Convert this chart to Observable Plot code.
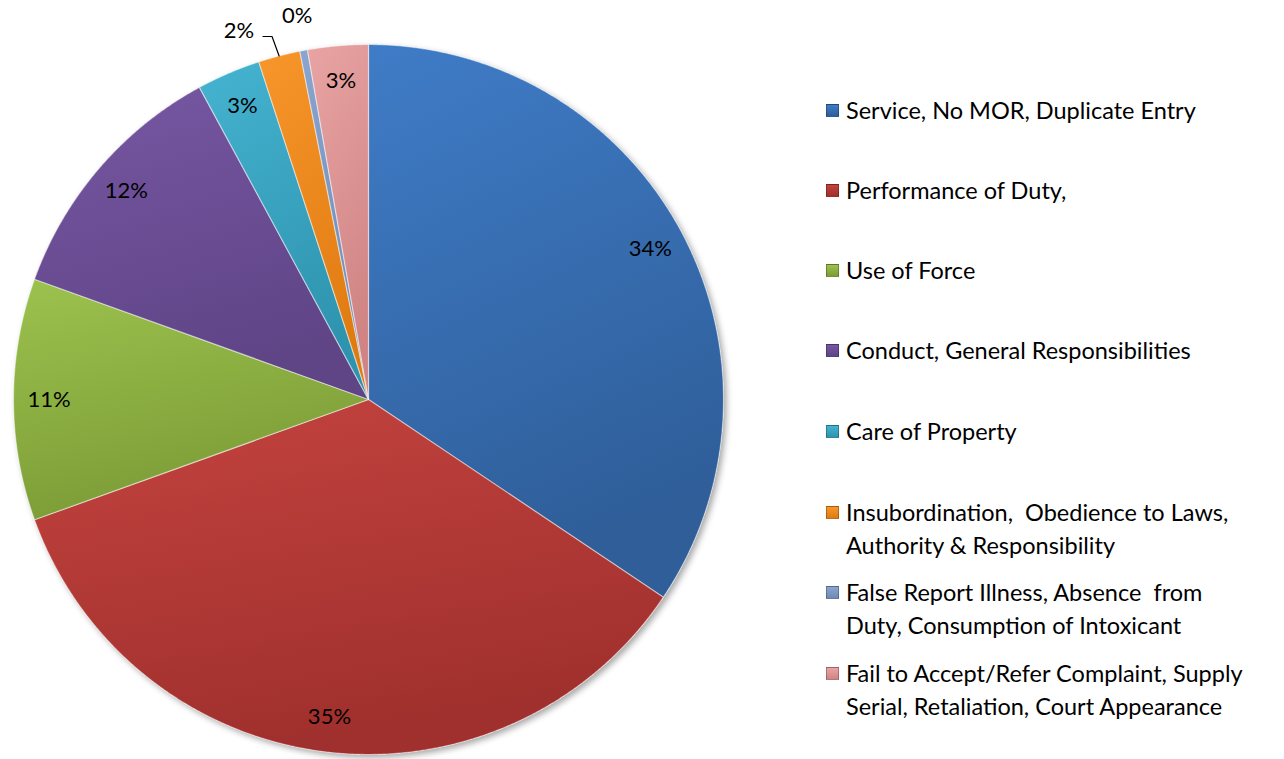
<!DOCTYPE html>
<html><head><meta charset="utf-8">
<script src="https://cdn.jsdelivr.net/npm/d3@7"></script>
<script src="https://cdn.jsdelivr.net/npm/@observablehq/plot@0.6"></script>
<style>
body{margin:0;background:#fff;font-family:Lato,"Open Sans",sans-serif;}
#wrap{position:relative;width:1284px;height:759px;overflow:hidden;background:#fff}
#chart{position:absolute;left:0;top:0}
#legend{position:absolute;left:826px;top:0;width:458px;height:759px}
.item{position:absolute;left:0;padding-left:20px;font-size:23.5px;line-height:33px;color:#000;white-space:pre}
.sw{position:absolute;left:0;top:10px;width:13px;height:13px;border:1px solid rgba(0,0,0,0.25);box-sizing:border-box}
</style>
</head><body>
<div id="wrap"><div id="chart"></div><div id="legend"></div></div>
<script>
const categories = [
  "Service, No MOR, Duplicate Entry",
  "Performance of Duty,",
  "Use of Force",
  "Conduct, General Responsibilities",
  "Care of Property",
  "Insubordination,  Obedience to Laws,\nAuthority & Responsibility",
  "False Report Illness, Absence  from\nDuty, Consumption of Intoxicant",
  "Fail to Accept/Refer Complaint, Supply\nSerial, Retaliation, Court Appearance"
];
const values = [34.4, 35.1, 11.0, 11.6, 2.9, 1.9, 0.35, 2.75];
const topColors    = ["#3f7cc7","#c4433f","#9cc24e","#7757a3","#45b3d0","#f7962a","#8aa6d0","#e8a4a3"];
const bottomColors = ["#2f5e99","#a0302d","#7c9c36","#5f4486","#2e93ae","#e07b12","#6f8bb5","#d08484"];

const rows = categories.map((c, i) => ({cat: c, value: values[i], i}));
const total = d3.sum(values);
const arcs = d3.pie().sort(null).value(d => d.value)(rows);

// slice polygons in unit coordinates (y up)
const slices = arcs.map(a => {
  const pts = [{x: 0, y: 0}];
  const n = Math.max(2, Math.ceil((a.endAngle - a.startAngle) / 0.004));
  for (let k = 0; k <= n; k++) {
    const t = a.startAngle + (a.endAngle - a.startAngle) * k / n;
    pts.push({x: Math.sin(t), y: Math.cos(t)});
  }
  pts.push({x: 0, y: 0});
  return pts;
});
const outline = d3.range(0, 2 * Math.PI + 0.004, 0.004).map(t => ({x: Math.sin(t), y: Math.cos(t)}));

// labels
const labels = arcs.map(a => {
  const pct = a.data.value / total * 100;
  const mid = (a.startAngle + a.endAngle) / 2;
  const outside = pct < 2.5;
  const shift = (outside && a.index === 5) ? -0.084 : 0;
  const r = outside ? 1.10 : 0.90;
  const ang = mid + shift;
  return {x: r * Math.sin(ang), y: r * Math.cos(ang), text: Math.round(pct) + "%", outside, shift, mid, index: a.index};
});
const leaders = labels.filter(l => l.shift !== 0).map(l => {
  const end = {x: Math.sin(l.mid), y: Math.cos(l.mid)};
  const ly = l.y - 0.015;
  return [{x: l.x + 0.068, y: ly}, {x: end.x - 0.02, y: ly}, end].map(p => ({...p, k: l.index}));
}).flat();

const W = 736, H = 759;
const chart = Plot.plot({
  width: W, height: H,
  marginTop: 44, marginBottom: 5, marginLeft: 13, marginRight: 13,
  x: {domain: [-1, 1], axis: null},
  y: {domain: [-1, 1], axis: null},
  style: {fontFamily: "Lato, 'Open Sans', sans-serif", background: "transparent", overflow: "visible"},
  marks: [
    Plot.line(outline, {x: "x", y: "y", fill: "white", stroke: "none"}),
    ...slices.map((pts, i) => Plot.line(pts, {
      x: "x", y: "y", fill: `url(#slice${i})`,
      stroke: "white", strokeOpacity: 0.45, strokeWidth: 1.2, strokeLinejoin: "round"
    })),
    Plot.line(leaders, {x: "x", y: "y", z: "k", stroke: "black", strokeWidth: 1.2}),
    Plot.text(labels, {x: "x", y: "y", text: "text", fontSize: 22, fill: "black"})
  ]
});

// gradient + shadow defs
const svg = d3.select(chart);
const defs = svg.insert("defs", ":first-child");
topColors.forEach((c, i) => {
  const g = defs.append("linearGradient").attr("id", `slice${i}`)
    .attr("x1", 0).attr("y1", 0).attr("x2", 0.3).attr("y2", 1);
  g.append("stop").attr("offset", "0%").attr("stop-color", c);
  g.append("stop").attr("offset", "100%").attr("stop-color", bottomColors[i]);
});
const f = defs.append("filter").attr("id", "pieShadow").attr("x", "-10%").attr("y", "-10%").attr("width", "120%").attr("height", "120%");
f.append("feDropShadow").attr("dx", 3).attr("dy", 3).attr("stdDeviation", 3).attr("flood-color", "#000").attr("flood-opacity", 0.35);
svg.select("g[aria-label=line]").attr("filter", "url(#pieShadow)");

document.getElementById("chart").appendChild(chart);

// legend
const legendCenters = [110, 190, 270, 350, 431, 512, 592, 673];
const legend = d3.select("#legend");
categories.forEach((c, i) => {
  const item = legend.append("div").attr("class", "item").style("top", (legendCenters[i] - 16.5) + "px");
  item.append("div").attr("class", "sw")
    .style("background", `linear-gradient(to bottom, ${topColors[i]}, ${bottomColors[i]})`);
  item.append("span").text(c);
});
</script>
</body></html>
